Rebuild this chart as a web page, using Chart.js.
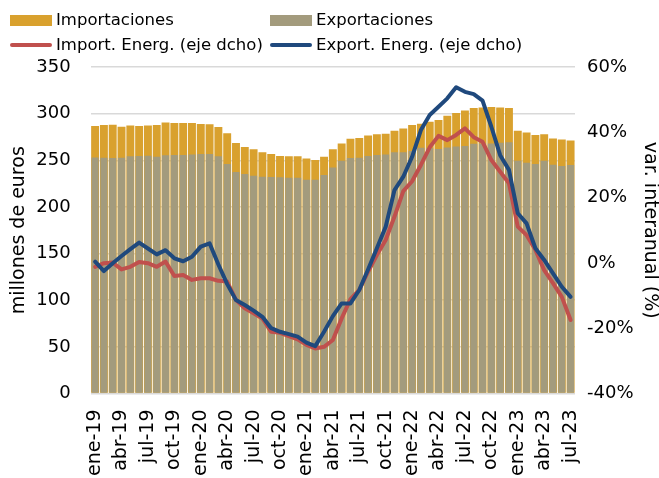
<!DOCTYPE html>
<html>
<head>
<meta charset="utf-8">
<script src="https://cdn.jsdelivr.net/npm/chart.js@4.4.0/dist/chart.umd.min.js"></script>
<style>
    html, body { margin: 0; padding: 0; background: #fff; overflow: hidden; }
    #wrap { position: relative; width: 659px; height: 478px; overflow: hidden; }
    #chart { position: absolute; left: 0; top: 0; }
    .leyenda { position: absolute; font-family: "DejaVu Sans", sans-serif; font-size: 16.5px; color: #000; white-space: nowrap; }
    .leyenda .caja { position: absolute; left: 0; width: 42px; height: 11px; }
    .leyenda .linea { position: absolute; left: 0; width: 42px; height: 4px; border-radius: 2px; }
    .leyenda span { position: absolute; left: 46px; top: -10px; line-height: 20px; }
</style>
</head>
<body>
<div id="wrap">
    <canvas id="chart" width="659" height="530"></canvas>
    <div class="leyenda" style="left:10px; top:20px;"><div class="caja" style="top:-5px; background:#D9A12E;"></div><span>Importaciones</span></div>
    <div class="leyenda" style="left:270px; top:20px;"><div class="caja" style="top:-5px; background:#A39B7D;"></div><span>Exportaciones</span></div>
    <div class="leyenda" style="left:10px; top:45px;"><div class="linea" style="top:-2px; background:#C0504D;"></div><span>Import. Energ. (eje dcho)</span></div>
    <div class="leyenda" style="left:270px; top:45px;"><div class="linea" style="top:-2px; background:#1F497D;"></div><span>Export. Energ. (eje dcho)</span></div>
</div>
<script>
// Meses (ene-19 a jul-23)
const meses = [
    'ene-19','feb-19','mar-19','abr-19','may-19','jun-19','jul-19','ago-19','sep-19','oct-19','nov-19','dic-19',
    'ene-20','feb-20','mar-20','abr-20','may-20','jun-20','jul-20','ago-20','sep-20','oct-20','nov-20','dic-20',
    'ene-21','feb-21','mar-21','abr-21','may-21','jun-21','jul-21','ago-21','sep-21','oct-21','nov-21','dic-21',
    'ene-22','feb-22','mar-22','abr-22','may-22','jun-22','jul-22','ago-22','sep-22','oct-22','nov-22','dic-22',
    'ene-23','feb-23','mar-23','abr-23','may-23','jun-23','jul-23'
];

// Millones de euros
const importaciones = [
    286.7, 287.8, 288, 286, 287.4, 286.7, 287.4, 287.8, 290.6, 289.9, 289.9, 290,
    288.8, 288.5, 285.6, 278.9, 268.5, 264.2, 261.9, 258.5, 256.7, 254.6, 254.2, 254.2,
    252, 250.3, 253.8, 261.7, 268.1, 273.1, 273.8, 276.7, 277.8, 278.5, 281.7, 284.2,
    287.7, 289.2, 291.3, 293.1, 297.8, 300.6, 303.5, 306, 306.7, 307.1, 306.7, 306,
    281.7, 279.9, 277, 277.8, 273.4, 272.4, 271.3
];
const exportaciones = [
    253.1, 252.7, 252.4, 252.7, 254.2, 254.6, 254.9, 253.8, 255.3, 255.6, 255.6, 256.3,
    256.7, 256.7, 254.2, 246, 237.4, 235.2, 233.5, 232.4, 232, 231.7, 231.3, 231.3,
    229.2, 229.2, 234.2, 242.4, 249.5, 252.4, 252.7, 254.6, 255.6, 256.3, 258.5, 258.7,
    260, 263.5, 262.8, 262, 263.8, 264.9, 265.3, 267.8, 268.1, 268.1, 268.8, 269.2,
    249.5, 247.4, 246, 249.5, 245.3, 243.8, 244.9
];

// Var. interanual (%), eje derecho
const importEnerg = [
    -1.2, -0.1, 0.1, -2.0, -1.2, 0.3, -0.1, -1.2, 0.4, -4.0, -3.7, -5.2,
    -4.7, -4.7, -5.5, -5.7, -11.4, -13.9, -15.4, -17.0, -21.1, -21.4, -22.4, -23.4,
    -25.1, -26.2, -25.7, -23.6, -17.0, -11.1, -8.3, -2.7, 2.4, 7.0, 14.2, 22.0,
    25.0, 30.0, 35.4, 38.9, 37.6, 39.2, 41.2, 38.5, 37.1, 31.5, 27.9, 24.4,
    11.1, 8.5, 4.0, -2.2, -6.2, -10.4, -17.5
];
const exportEnerg = [
    0.4, -2.5, -0.1, 2.1, 4.2, 6.2, 4.4, 2.6, 3.9, 1.4, 0.5, 1.9,
    5.0, 6.0, -0.5, -6.5, -11.4, -12.9, -14.6, -16.5, -20.0, -21.1, -21.8, -22.6,
    -24.4, -25.5, -21.1, -16.3, -12.4, -12.4, -8.3, -2.0, 4.5, 11.1, 22.3, 26.4,
    32.5, 40.7, 45.3, 47.8, 50.4, 53.8, 52.4, 51.7, 49.7, 41.7, 33.0, 28.5,
    15.2, 12.1, 4.5, 0.9, -3.2, -7.3, -10.4
];

const ALTO = 530;
const fuente = '"DejaVu Sans", sans-serif';

new Chart(document.getElementById('chart'), {
    type: 'bar',
    data: {
        labels: meses,
        datasets: [
            {
                type: 'line',
                label: 'Export. Energ. (eje dcho)',
                data: exportEnerg,
                yAxisID: 'y1',
                borderColor: '#1F497D',
                borderWidth: 4,
                pointRadius: 0,
                tension: 0,
                borderJoinStyle: 'round',
                borderCapStyle: 'round',
                order: 0
            },
            {
                type: 'line',
                label: 'Import. Energ. (eje dcho)',
                data: importEnerg,
                yAxisID: 'y1',
                borderColor: '#C0504D',
                borderWidth: 4,
                pointRadius: 0,
                tension: 0,
                borderJoinStyle: 'round',
                borderCapStyle: 'round',
                order: 1
            },
            {
                label: 'Exportaciones',
                data: exportaciones,
                yAxisID: 'y',
                backgroundColor: '#A39B7D',
                grouped: false,
                barPercentage: 0.8,
                categoryPercentage: 1,
                order: 2
            },
            {
                label: 'Importaciones',
                data: importaciones,
                yAxisID: 'y',
                backgroundColor: '#D9A12E',
                grouped: false,
                barPercentage: 0.9,
                categoryPercentage: 1,
                order: 3
            }
        ]
    },
    options: {
        responsive: false,
        animation: false,
        devicePixelRatio: 1,
        layout: { padding: { top: 67, left: 0, right: 0, bottom: 0 } },
        plugins: {
            legend: { display: false },
            tooltip: { enabled: false }
        },
        scales: {
            x: {
                offset: true,
                grid: { display: false },
                border: { display: false },
                ticks: {
                    autoSkip: false,
                    minRotation: 90,
                    maxRotation: 90,
                    padding: 8,
                    color: '#000',
                    font: { family: fuente, size: 19 },
                    callback: function(val, idx) {
                        return idx % 3 === 0 ? meses[idx] : '';
                    }
                },
                afterFit: function(scale) {
                    scale.height = ALTO - 393.5;
                }
            },
            y: {
                position: 'left',
                min: 0,
                max: 350,
                ticks: {
                    stepSize: 50,
                    padding: 20,
                    color: '#000',
                    font: { family: fuente, size: 18 }
                },
                grid: { color: '#D9D9D9', lineWidth: 1.5, drawTicks: false },
                border: { display: false },
                title: {
                    display: true,
                    text: 'millones de euros',
                    color: '#000',
                    font: { family: fuente, size: 19, lineHeight: 1 },
                    padding: { top: 10, bottom: 0 }
                },
                afterFit: function(scale) {
                    scale.width = 90.7;
                }
            },
            y1: {
                position: 'right',
                min: -40,
                max: 60,
                ticks: {
                    stepSize: 20,
                    padding: 12,
                    color: '#000',
                    font: { family: fuente, size: 18 },
                    callback: function(value) {
                        return value + '%';
                    }
                },
                grid: { display: false, drawTicks: false },
                border: { display: false },
                title: {
                    display: true,
                    text: 'var. interanual (%)',
                    color: '#000',
                    font: { family: fuente, size: 19, lineHeight: 1 },
                    padding: { top: 0, bottom: 0 }
                },
                afterFit: function(scale) {
                    scale.width = 84;
                }
            }
        }
    }
});
</script>
</body>
</html>
